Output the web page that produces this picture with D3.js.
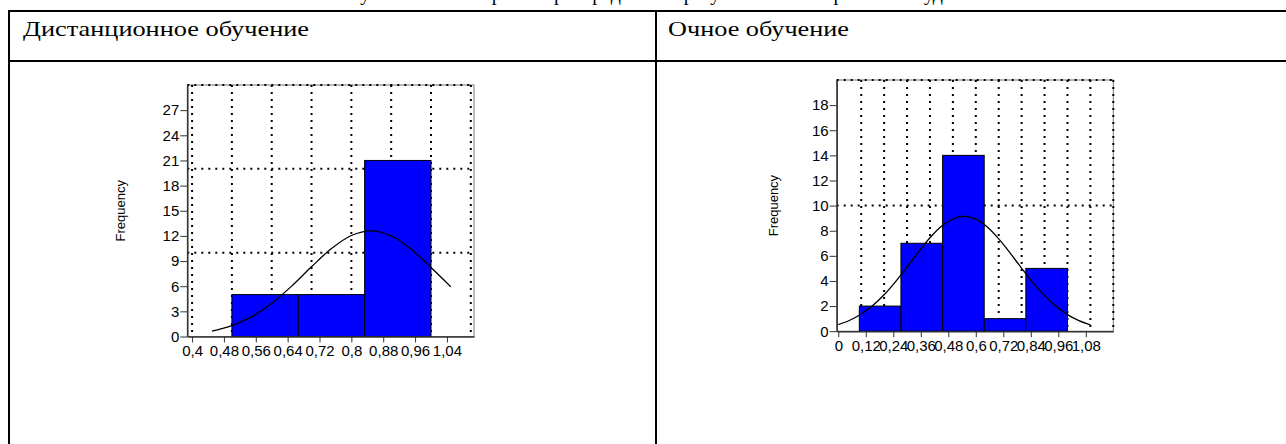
<!DOCTYPE html>
<html>
<head>
<meta charset="utf-8">
<script src="https://cdn.jsdelivr.net/npm/d3@7"></script>
<style>
  body { margin: 0; background: #fff; }
  svg { display: block; }
</style>
</head>
<body>
<svg id="page" width="1286" height="444"></svg>
<script>
// table headers
const panelTitles = ["Дистанционное обучение", "Очное обучение"];
const captionText = "Рисунок 2 – Гистограммы распределения результатов тестирования студентов";

// left histogram (distance learning)
const leftBinEdges = [0.5, 0.6667, 0.8333, 1.0];
const leftCounts = [5, 5, 21];
const leftTicksX = [0.4, 0.48, 0.56, 0.64, 0.72, 0.8, 0.88, 0.96, 1.04];
const leftTicksY = [0, 3, 6, 9, 12, 15, 18, 21, 24, 27];
const leftGridX = [0.4, 0.5, 0.6, 0.7, 0.8, 0.9, 1.0, 1.1];
const leftGridY = [10, 20, 30];
const leftCurveX = [0.45, 0.5, 0.55, 0.6, 0.65, 0.7, 0.75, 0.8, 0.85, 0.9, 0.95, 1.0, 1.05];
const leftCurveY = [0.64, 1.3, 2.37, 3.96, 6.01, 8.32, 10.49, 12.05, 12.6, 12.0, 10.42, 8.23, 5.92];

// right histogram (full-time learning)
const rightBinEdges = [0.0917, 0.2733, 0.455, 0.6367, 0.8183, 1.0];
const rightCounts = [2, 7, 14, 1, 5];
const rightTicksX = [0, 0.12, 0.24, 0.36, 0.48, 0.6, 0.72, 0.84, 0.96, 1.08];
const rightTicksY = [0, 2, 4, 6, 8, 10, 12, 14, 16, 18];
const rightGridX = [0.1, 0.2, 0.3, 0.4, 0.5, 0.6, 0.7, 0.8, 0.9, 1.0, 1.1, 1.2];
const rightGridY = [10, 20];
const rightCurveX = [0, 0.05, 0.1, 0.15, 0.2, 0.25, 0.3, 0.35, 0.4, 0.45, 0.5, 0.55,
                     0.6, 0.65, 0.7, 0.75, 0.8, 0.85, 0.9, 0.95, 1.0, 1.05, 1.1];
const rightCurveY = [0.53, 0.87, 1.37, 2.04, 2.9, 3.95, 5.11, 6.31, 7.44, 8.35, 8.95, 9.15,
                     8.92, 8.29, 7.35, 6.22, 5.01, 3.85, 2.83, 1.98, 1.32, 0.84, 0.51];

const svg = d3.select("#page");
svg.append("rect").attr("width", 1286).attr("height", 444).attr("fill", "#fff");

// caption line above the table, cut by the top edge as in the scan
svg.append("text")
  .attr("x", 330).attr("y", 0)
  .attr("textLength", 660).attr("lengthAdjust", "spacingAndGlyphs")
  .style("font-family", "'Liberation Serif', 'Times New Roman', serif")
  .style("font-size", "22px")
  .text(captionText);

// table grid
const tableLine = (x1, y1, x2, y2) => svg.append("line")
  .attr("x1", x1).attr("y1", y1).attr("x2", x2).attr("y2", y2)
  .attr("stroke", "#000").attr("stroke-width", 2);
tableLine(8, 11, 1286, 11);
tableLine(8, 61, 1286, 61);
tableLine(9, 10, 9, 444);
tableLine(656, 10, 656, 444);

// header texts
const titlePos = [{ x: 23, w: 286 }, { x: 668, w: 181 }];
panelTitles.forEach((t, i) => {
  svg.append("text")
    .attr("x", titlePos[i].x).attr("y", 36)
    .attr("textLength", titlePos[i].w).attr("lengthAdjust", "spacingAndGlyphs")
    .style("font-family", "'Liberation Serif', 'Times New Roman', serif")
    .style("font-size", "21px")
    .text(t);
});

const fmt = d => String(+d.toFixed(2)).replace(".", ",");

function drawHistogram(cfg) {
  const x = d3.scaleLinear().domain(cfg.xDomain).range([cfg.left, cfg.right]);
  const y = d3.scaleLinear().domain(cfg.yDomain).range([cfg.bottom, cfg.top]);
  const g = svg.append("g");

  // frame
  g.append("rect")
    .attr("x", cfg.left).attr("y", cfg.top)
    .attr("width", cfg.right - cfg.left).attr("height", cfg.bottom - cfg.top)
    .attr("fill", "none").attr("stroke", "#777").attr("stroke-width", 1);

  // dotted grid
  g.selectAll(".gx").data(cfg.gridX).enter().append("line")
    .attr("x1", d => x(d)).attr("x2", d => x(d))
    .attr("y1", cfg.top).attr("y2", cfg.bottom)
    .attr("stroke", "#000").attr("stroke-width", 2).attr("stroke-dasharray", "2,5");
  g.selectAll(".gy").data(cfg.gridY).enter().append("line")
    .attr("y1", d => y(d)).attr("y2", d => y(d))
    .attr("x1", cfg.left).attr("x2", cfg.right)
    .attr("stroke", "#000").attr("stroke-width", 2).attr("stroke-dasharray", "2,5");

  // bars
  g.selectAll(".bar").data(cfg.counts).enter().append("rect")
    .attr("x", (d, i) => x(cfg.edges[i]))
    .attr("width", (d, i) => x(cfg.edges[i + 1]) - x(cfg.edges[i]))
    .attr("y", d => y(d))
    .attr("height", d => y(0) - y(d))
    .attr("fill", "#0000ff").attr("stroke", "#000").attr("stroke-width", 1);

  // fitted normal curve
  const pts = cfg.curveX.map((v, i) => [v, cfg.curveY[i]]);
  g.append("path")
    .datum(pts)
    .attr("fill", "none").attr("stroke", "#000").attr("stroke-width", 1.3)
    .attr("d", d3.line().x(d => x(d[0])).y(d => y(d[1])).curve(d3.curveCatmullRom));

  // axes
  const ax = g.append("g")
    .attr("transform", `translate(0,${cfg.bottom})`)
    .call(d3.axisBottom(x).tickValues(cfg.ticksX).tickFormat(fmt).tickSize(6).tickSizeOuter(0).tickPadding(3));
  const ay = g.append("g")
    .attr("transform", `translate(${cfg.left},0)`)
    .call(d3.axisLeft(y).tickValues(cfg.ticksY).tickSize(7).tickSizeOuter(0).tickPadding(1));
  [ax, ay].forEach(a => {
    a.select(".domain").attr("stroke", "#333").attr("stroke-width", 1.5);
    a.selectAll(".tick line").attr("stroke", "#333");
    a.selectAll("text")
      .style("font-family", "'Liberation Sans', Arial, sans-serif")
      .style("font-size", "15px").attr("fill", "#000");
  });

  // y label
  g.append("text")
    .attr("transform", `translate(${cfg.labelX},${(cfg.top + cfg.bottom) / 2}) rotate(-90)`)
    .attr("text-anchor", "middle").attr("dy", "0.35em")
    .style("font-family", "'Liberation Sans', Arial, sans-serif")
    .style("font-size", "13px")
    .text("Frequency");
}

drawHistogram({
  xDomain: [0.388, 1.108], yDomain: [0, 30],
  left: 187.3, right: 474, top: 85, bottom: 336.5,
  edges: leftBinEdges, counts: leftCounts,
  ticksX: leftTicksX, ticksY: leftTicksY,
  gridX: leftGridX, gridY: leftGridY,
  curveX: leftCurveX, curveY: leftCurveY,
  labelX: 120
});

drawHistogram({
  xDomain: [-0.007, 1.2], yDomain: [0, 20],
  left: 836.7, right: 1113.3, top: 80, bottom: 331.2,
  edges: rightBinEdges, counts: rightCounts,
  ticksX: rightTicksX, ticksY: rightTicksY,
  gridX: rightGridX, gridY: rightGridY,
  curveX: rightCurveX, curveY: rightCurveY,
  labelX: 773
});
</script>
</body>
</html>
